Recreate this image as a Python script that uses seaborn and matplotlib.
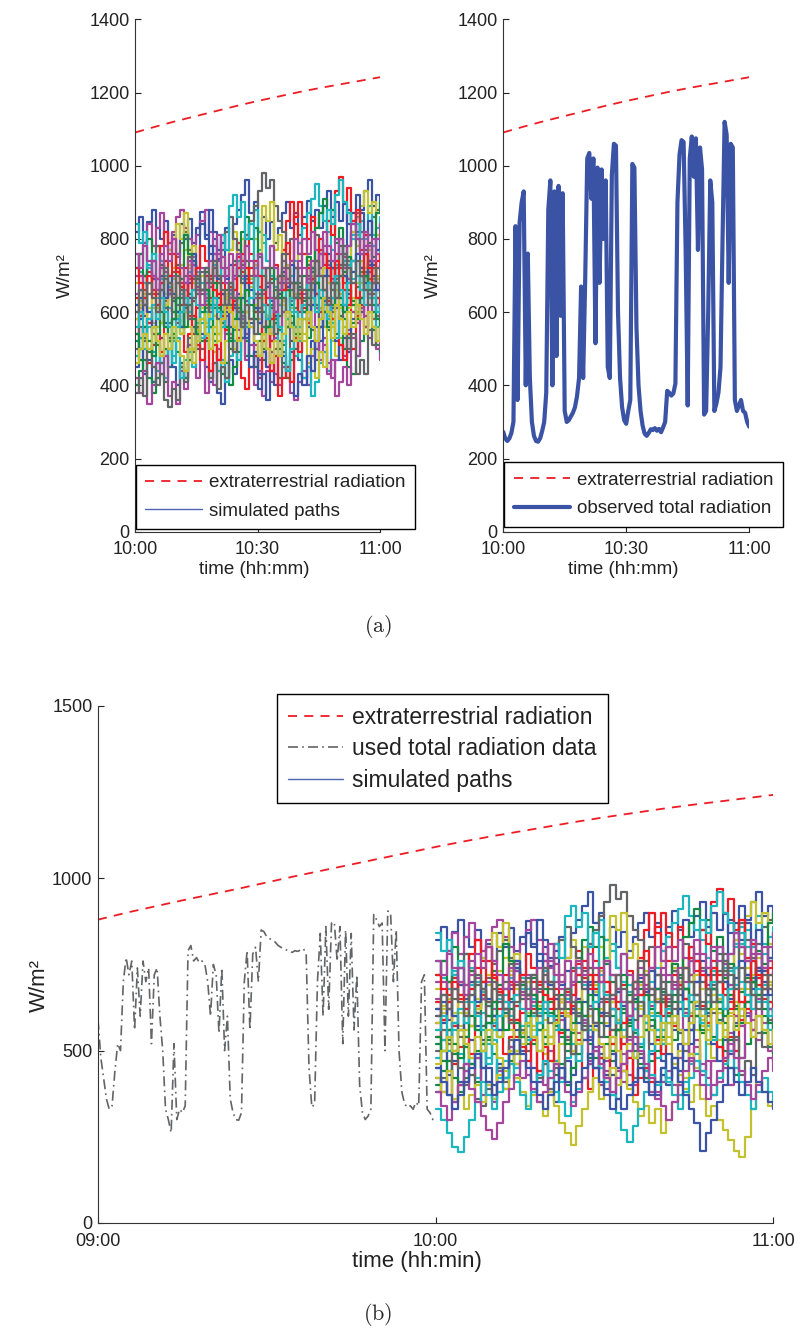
import numpy as np
import pandas as pd
import seaborn as sns
import matplotlib.pyplot as plt
from matplotlib.lines import Line2D

sns.set_style('white')
plt.rcParams['font.family'] = ['Liberation Sans', 'DejaVu Sans']
plt.rcParams['mathtext.fontset'] = 'cm'

# extraterrestrial radiation, every 5 min from 09:00 to 11:00
et_minutes = np.arange(0, 121, 5)
et_values = [880, 900, 918, 936, 953, 970, 988, 1006, 1023, 1040, 1057, 1074, 1091,
             1107, 1122, 1136, 1150, 1164, 1177, 1189, 1201, 1212, 1222, 1232, 1242]

# observed total radiation 10:00-11:00, every 30 s
obs_values = [273, 255, 248, 255, 270, 300, 835, 360, 845, 900,
              930, 400, 760, 420, 300, 262, 248, 246, 255, 275,
              300, 380, 880, 960, 400, 930, 480, 945, 590, 925,
              330, 300, 305, 315, 325, 340, 370, 420, 670, 420,
              690, 1020, 1035, 910, 1020, 515, 995, 680, 990, 800,
              960, 450, 420, 975, 1060, 1055, 600, 420, 340, 305,
              295, 330, 360, 1005, 995, 560, 400, 330, 290, 268,
              262, 270, 280, 278, 283, 276, 281, 272, 285, 300,
              385, 380, 372, 378, 405, 900, 1030, 1070, 1065, 770,
              345, 1020, 1080, 970, 1075, 770, 1050, 990, 320, 330,
              600, 960, 900, 330, 350, 380, 450, 800, 1120, 1085,
              680, 1060, 1050, 360, 330, 345, 360, 330, 325, 300,
              287]

# used total radiation data 09:00-10:00, every 30 s
used_values = [590, 480, 420, 360, 330, 340, 440, 520, 500, 700,
               770, 720, 760, 560, 740, 600, 760, 700, 740, 520,
               720, 740, 600, 500, 330, 300, 262, 520, 300, 330,
               320, 340, 790, 805, 760, 770, 755, 760, 750, 700,
               600, 750, 720, 550, 740, 500, 600, 360, 320, 300,
               298, 320, 700, 790, 560, 780, 800, 700, 850, 845,
               830, 825, 820, 815, 805, 800, 795, 792, 790, 785,
               790, 788, 792, 796, 780, 450, 336, 345, 700, 840,
               600, 860, 620, 870, 873, 760, 860, 520, 850, 600,
               840, 560, 720, 400, 320, 300, 310, 330, 895, 880,
               860, 870, 500, 905, 900, 700, 850, 500, 380, 345,
               335, 340, 330, 350, 340, 700, 720, 330, 320, 300,
               310]

# simulated paths 10:00-11:00, one value per minute
paths = [
    [820, 860, 790, 845, 880, 830, 800, 850, 770, 810, 760, 840, 800, 855, 790, 830, 875, 810, 760, 800,
     745, 790, 830, 770, 840, 880, 920, 960, 870, 900, 820, 860, 800, 845, 790, 830, 870, 900, 830, 870,
     810, 860, 905, 850, 880, 830, 890, 930, 860, 900, 850, 895, 840, 870, 820, 880, 930, 960, 890, 920, 900],
    [520, 470, 530, 490, 560, 510, 460, 500, 450, 530, 580, 540, 610, 650, 590, 540, 580, 520, 560, 610,
     650, 590, 540, 500, 550, 600, 560, 520, 480, 450, 520, 470, 560, 610, 660, 620, 680, 600, 560, 610,
     650, 700, 640, 690, 610, 560, 600, 550, 640, 680, 620, 580, 530, 570, 620, 660, 710, 650, 600, 640, 590],
    [640, 590, 660, 710, 650, 610, 570, 630, 680, 640, 710, 670, 620, 580, 540, 610, 660, 620, 690, 760,
     700, 650, 610, 680, 730, 790, 740, 810, 760, 700, 670, 720, 640, 690, 730, 680, 770, 850, 900, 840,
     790, 760, 730, 690, 650, 600, 660, 720, 680, 760, 720, 680, 640, 600, 580, 640, 700, 740, 680, 640, 610],
    [760, 710, 680, 730, 690, 780, 740, 700, 670, 630, 600, 650, 620, 710, 760, 710, 680, 630, 580, 620,
     540, 580, 620, 650, 700, 740, 690, 800, 840, 880, 820, 790, 740, 700, 670, 620, 600, 660, 700, 740,
     790, 830, 870, 910, 950, 890, 850, 820, 770, 730, 700, 740, 780, 810, 860, 800, 760, 720, 780, 830, 860],
    [700, 760, 790, 840, 780, 830, 870, 820, 790, 820, 860, 880, 830, 800, 750, 810, 850, 880, 820, 780,
     740, 700, 720, 660, 620, 650, 580, 540, 580, 510, 470, 520, 450, 490, 430, 400, 450, 420, 380, 360,
     410, 440, 400, 480, 520, 470, 510, 460, 420, 470, 510, 480, 550, 600, 570, 640, 590, 530, 560, 500, 470],
    [560, 610, 650, 600, 570, 520, 570, 610, 650, 690, 640, 730, 770, 720, 680, 650, 600, 560, 620, 660,
     700, 750, 700, 770, 820, 760, 800, 740, 690, 730, 660, 620, 580, 540, 590, 560, 630, 680, 640, 720,
     760, 800, 740, 700, 650, 610, 560, 590, 520, 480, 530, 560, 610, 640, 600, 680, 720, 770, 730, 700, 660],
    [620, 660, 700, 650, 740, 780, 730, 690, 650, 710, 750, 790, 820, 770, 730, 690, 650, 610, 670, 720,
     680, 770, 820, 860, 800, 770, 730, 810, 850, 890, 930, 980, 940, 960, 890, 850, 820, 760, 800, 720,
     660, 620, 580, 550, 500, 560, 600, 640, 600, 690, 730, 780, 740, 820, 870, 820, 770, 810, 860, 880, 900],
    [450, 500, 430, 470, 410, 460, 530, 480, 520, 450, 400, 460, 420, 510, 560, 500, 540, 450, 410, 460,
     380, 350, 420, 470, 430, 520, 590, 530, 570, 480, 430, 490, 450, 540, 600, 560, 640, 580, 520, 560,
     470, 420, 480, 520, 470, 560, 630, 570, 610, 520, 470, 530, 490, 580, 640, 600, 700, 730, 660, 620, 580],
    [400, 440, 470, 420, 380, 420, 460, 410, 500, 540, 490, 450, 420, 470, 500, 550, 520, 600, 560, 520,
     470, 430, 460, 400, 450, 490, 530, 480, 560, 610, 650, 600, 560, 520, 570, 500, 460, 420, 470, 500,
     540, 580, 530, 620, 680, 720, 660, 620, 580, 540, 590, 500, 450, 430, 480, 520, 560, 600, 550, 510, 490],
    [580, 530, 560, 460, 510, 540, 490, 620, 660, 600, 570, 620, 490, 540, 590, 550, 660, 700, 640, 730,
     650, 600, 640, 540, 490, 530, 420, 390, 450, 480, 420, 560, 590, 520, 640, 700, 660, 790, 740, 860,
     900, 840, 800, 860, 740, 700, 760, 630, 580, 640, 510, 470, 540, 500, 590, 620, 560, 710, 740, 680, 650],
    [480, 530, 500, 560, 490, 440, 480, 420, 500, 460, 580, 540, 660, 700, 630, 680, 570, 600, 500, 540,
     440, 470, 410, 480, 520, 470, 600, 560, 680, 650, 770, 810, 740, 780, 690, 640, 690, 560, 600, 480,
     520, 420, 450, 370, 410, 460, 490, 440, 570, 530, 650, 600, 730, 690, 810, 850, 800, 890, 810, 770, 740],
    [420, 380, 440, 350, 400, 460, 430, 480, 370, 410, 350, 440, 390, 510, 460, 420, 470, 380, 440, 400,
     500, 460, 590, 540, 620, 550, 590, 470, 510, 400, 440, 370, 440, 410, 530, 480, 600, 560, 680, 640,
     720, 650, 690, 560, 610, 490, 530, 430, 470, 370, 410, 450, 400, 530, 480, 610, 560, 650, 580, 620, 500],
    [680, 630, 700, 570, 610, 560, 690, 650, 770, 720, 840, 800, 870, 730, 780, 660, 700, 570, 610, 490,
     540, 460, 520, 560, 500, 640, 600, 720, 680, 800, 760, 890, 850, 900, 770, 810, 690, 730, 610, 650,
     530, 580, 460, 500, 420, 490, 450, 570, 530, 660, 610, 730, 690, 820, 780, 890, 930, 870, 900, 810, 780],
    [380, 420, 370, 500, 450, 400, 430, 360, 340, 390, 360, 450, 410, 530, 490, 560, 500, 540, 420, 460,
     390, 450, 420, 530, 490, 610, 570, 690, 640, 600, 650, 540, 580, 460, 500, 420, 490, 450, 570, 530,
     650, 600, 730, 690, 810, 760, 700, 740, 660, 610, 580, 620, 500, 540, 430, 470, 430, 550, 510, 590, 520],
    [600, 640, 590, 720, 690, 650, 700, 570, 530, 580, 600, 560, 680, 640, 760, 720, 840, 800, 880, 820,
     770, 810, 690, 730, 610, 650, 530, 570, 450, 490, 390, 430, 360, 440, 400, 520, 480, 440, 490, 370,
     430, 400, 480, 440, 560, 520, 640, 600, 720, 680, 800, 760, 880, 840, 920, 870, 810, 850, 730, 770, 800],
    [720, 760, 700, 800, 740, 690, 730, 610, 650, 600, 730, 690, 810, 760, 740, 690, 660, 710, 580, 540,
     610, 570, 660, 620, 740, 700, 820, 860, 800, 830, 750, 700, 670, 720, 590, 550, 510, 560, 590, 540,
     670, 630, 750, 710, 830, 870, 910, 850, 880, 790, 830, 710, 750, 630, 670, 710, 660, 790, 750, 870, 900],
    [540, 590, 620, 570, 700, 660, 780, 820, 760, 800, 710, 670, 720, 590, 630, 510, 470, 530, 440, 510,
     470, 590, 550, 670, 630, 750, 710, 680, 720, 600, 640, 520, 560, 440, 480, 370, 420, 450, 410, 530,
     490, 610, 570, 690, 650, 770, 730, 850, 810, 930, 970, 900, 940, 850, 880, 770, 810, 690, 650, 720, 730],
    [840, 790, 820, 720, 760, 640, 690, 560, 610, 480, 530, 420, 470, 490, 450, 570, 530, 650, 610, 730,
     690, 810, 770, 890, 920, 860, 900, 800, 840, 720, 760, 640, 680, 560, 600, 480, 520, 440, 500, 560,
     520, 640, 600, 720, 680, 800, 760, 880, 840, 920, 960, 900, 870, 800, 840, 720, 760, 640, 690, 560, 520],
    [650, 700, 620, 680, 740, 690, 760, 710, 650, 700, 620, 660, 600, 690, 730, 670, 720, 640, 700, 760,
     810, 750, 700, 760, 690, 640, 700, 630, 580, 640, 700, 650, 720, 780, 720, 680, 740, 690, 630, 680,
     740, 800, 760, 820, 770, 720, 780, 730, 690, 740, 800, 750, 690, 740, 680, 720, 780, 740, 800, 760, 720],
    [580, 620, 560, 610, 660, 610, 570, 620, 680, 640, 590, 540, 600, 560, 500, 550, 610, 570, 630, 590,
     540, 600, 650, 610, 560, 620, 680, 720, 670, 620, 580, 640, 590, 540, 600, 660, 620, 580, 640, 600,
     560, 520, 580, 640, 600, 660, 720, 680, 740, 700, 650, 700, 660, 620, 680, 740, 700, 660, 720, 690, 650],
    [500, 560, 520, 580, 540, 600, 660, 610, 570, 630, 680, 640, 700, 750, 690, 650, 710, 660, 600, 640,
     580, 620, 560, 600, 660, 720, 680, 740, 700, 650, 610, 560, 620, 580, 540, 590, 640, 600, 660, 720,
     680, 640, 700, 660, 620, 580, 640, 700, 660, 720, 780, 730, 680, 740, 800, 760, 700, 660, 720, 680, 640],
    [620, 580, 640, 600, 560, 620, 680, 640, 700, 650, 600, 560, 620, 680, 740, 700, 660, 720, 780, 740,
     690, 650, 600, 560, 620, 580, 640, 700, 660, 610, 570, 620, 670, 630, 590, 650, 710, 670, 730, 680,
     640, 600, 560, 620, 680, 640, 700, 760, 720, 680, 640, 700, 650, 710, 760, 720, 680, 740, 700, 660, 700],
    [540, 500, 560, 520, 480, 540, 600, 560, 520, 580, 640, 600, 560, 620, 580, 540, 600, 660, 620, 680,
     640, 600, 560, 520, 580, 640, 600, 660, 620, 580, 540, 500, 560, 620, 580, 640, 700, 660, 620, 680,
     640, 600, 660, 720, 680, 640, 600, 560, 620, 680, 640, 600, 660, 620, 580, 640, 700, 660, 620, 580, 560],
    [720, 680, 640, 700, 660, 620, 680, 740, 700, 760, 720, 680, 640, 700, 660, 720, 780, 740, 700, 660,
     620, 680, 640, 600, 660, 720, 760, 720, 680, 740, 700, 660, 620, 580, 640, 700, 660, 720, 680, 640,
     600, 660, 720, 680, 740, 800, 760, 720, 680, 740, 700, 660, 620, 680, 640, 700, 760, 720, 680, 740, 760],
    [560, 600, 540, 580, 620, 580, 640, 600, 560, 520, 560, 600, 640, 600, 660, 620, 580, 540, 580, 640,
     600, 560, 620, 680, 640, 600, 560, 600, 640, 700, 660, 620, 580, 640, 600, 560, 520, 580, 640, 600,
     560, 620, 680, 640, 600, 660, 620, 580, 640, 700, 660, 620, 680, 740, 700, 660, 620, 680, 640, 600, 620],
    [760, 720, 780, 740, 700, 660, 720, 780, 740, 800, 760, 720, 680, 740, 700, 660, 620, 680, 740, 700,
     760, 720, 680, 640, 700, 760, 720, 780, 740, 700, 760, 720, 680, 640, 600, 660, 720, 680, 740, 800,
     760, 720, 680, 740, 700, 760, 820, 780, 740, 800, 760, 720, 780, 840, 800, 760, 820, 780, 740, 800, 840],
    [460, 500, 540, 500, 560, 520, 480, 540, 500, 560, 520, 480, 440, 500, 460, 520, 580, 540, 500, 560,
     520, 580, 640, 600, 560, 520, 560, 600, 560, 520, 480, 540, 500, 460, 520, 480, 540, 600, 560, 520,
     580, 540, 600, 560, 520, 580, 640, 600, 560, 620, 580, 540, 600, 560, 620, 580, 540, 600, 560, 520, 560],
    [600, 660, 620, 680, 640, 600, 660, 720, 680, 640, 700, 660, 620, 580, 640, 700, 660, 720, 680, 740,
     700, 660, 620, 680, 640, 600, 560, 620, 580, 540, 600, 660, 720, 680, 640, 700, 760, 720, 680, 640,
     700, 660, 620, 680, 740, 700, 660, 620, 680, 640, 700, 760, 720, 680, 740, 700, 660, 620, 680, 720, 680],
]

# extra low paths that only appear in panel (b)
extra_paths = [
    [420, 380, 440, 360, 400, 330, 370, 400, 350, 400, 360, 430, 390, 460, 420, 380, 340, 370, 350, 310,
     380, 340, 290, 260, 225, 280, 330, 380, 420, 360, 410, 450, 400, 440, 390, 350, 310, 340, 290, 330,
     260, 300, 350, 430, 390, 350, 400, 360, 310, 340, 300, 270, 240, 210, 190, 250, 330, 410, 380, 340, 360],
    [330, 300, 260, 220, 205, 250, 300, 350, 410, 370, 330, 380, 420, 460, 410, 370, 330, 380, 430, 470,
     420, 380, 350, 310, 350, 390, 420, 460, 500, 450, 410, 370, 320, 270, 235, 280, 330, 380, 430, 400,
     450, 410, 370, 330, 380, 420, 470, 440, 400, 370, 420, 460, 500, 450, 410, 370, 330, 380, 420, 380, 350],
    [380, 340, 300, 350, 400, 440, 390, 350, 310, 270, 245, 290, 350, 390, 430, 470, 430, 390, 350, 380,
     420, 460, 420, 380, 340, 380, 420, 460, 500, 460, 420, 380, 420, 460, 500, 540, 500, 460, 420, 380,
     340, 300, 350, 400, 440, 480, 440, 400, 360, 400, 440, 480, 520, 480, 440, 400, 360, 400, 440, 480, 440],
    [450, 410, 370, 330, 370, 410, 450, 490, 450, 410, 370, 410, 450, 490, 530, 490, 450, 410, 370, 330,
     370, 410, 450, 410, 370, 410, 450, 490, 450, 410, 370, 330, 360, 330, 370, 410, 450, 410, 370, 410,
     450, 490, 450, 410, 370, 330, 290, 210, 260, 300, 350, 400, 450, 410, 370, 410, 450, 410, 380, 350, 330],
]

BLUE, GREEN, RED, CYAN = '#3a53a4', '#138a43', '#ed1c24', '#1bb6be'
MAGENTA, YELLOW, GRAY = '#a4469b', '#c3c22e', '#636466'
cycle = [BLUE, GREEN, RED, CYAN, MAGENTA, YELLOW, GRAY]
extra_colors = [YELLOW, CYAN, MAGENTA, BLUE]
TXT = '#222222'


def paths_frame(series, offset):
    rows = []
    for i, vals in enumerate(series):
        for m, v in enumerate(vals):
            rows.append((f'p{i:02d}', m + offset, v))
    return pd.DataFrame(rows, columns=['path', 'minute', 'value'])


def draw_paths(ax, series, colors, offset=0):
    df = paths_frame(series, offset)
    pal = {f'p{i:02d}': colors[i] for i in range(len(series))}
    sns.lineplot(data=df, x='minute', y='value', hue='path', palette=pal,
                 estimator=None, sort=False, legend=False, lw=1.6,
                 drawstyle='steps-post', ax=ax)


def style_axis(ax, fs):
    sns.despine(ax=ax)
    for s in ['left', 'bottom']:
        ax.spines[s].set_color('#333333')
        ax.spines[s].set_linewidth(0.8)
    ax.tick_params(direction='in', length=4, width=0.8, labelsize=fs,
                   colors=TXT, pad=4, left=True, bottom=True)
    ax.tick_params(axis='x', pad=7)
    ax.set_xlabel('')
    ax.set_ylabel('')


def legend_box(ax, handles, labels, fs, anchor, loc, hl, sp):
    leg = ax.legend(handles, labels, loc=loc, bbox_to_anchor=anchor,
                    fontsize=fs, frameon=True, fancybox=False, framealpha=1,
                    edgecolor='black', borderaxespad=0, handlelength=hl,
                    handletextpad=0.4, labelspacing=sp, borderpad=0.5)
    leg.get_frame().set_linewidth(1.0)
    for t in leg.get_texts():
        t.set_color(TXT)
    return leg


fig = plt.figure(figsize=(8, 13.28), dpi=100)
ax_tl = fig.add_axes([0.169, 0.5996, 0.306, 0.3858])
ax_tr = fig.add_axes([0.629, 0.5996, 0.3075, 0.3858])
ax_b = fig.add_axes([0.1225, 0.0791, 0.844, 0.3893])

obs_minutes = np.arange(len(obs_values)) * 0.5
used_minutes = np.arange(len(used_values)) * 0.5
et_top = et_minutes >= 60

red_dash = (0, (5, 4))
path_colors = [cycle[i % 7] for i in range(len(paths))]


def et_handle():
    return Line2D([], [], color=RED, lw=1.3, linestyle=red_dash)


def sim_handle():
    return Line2D([], [], color='#4f63b0', lw=1.0)


# (a) left: simulated paths
draw_paths(ax_tl, paths, path_colors)
sns.lineplot(x=et_minutes[et_top] - 60, y=np.array(et_values)[et_top], color=RED,
             lw=1.3, linestyle=red_dash, ax=ax_tl)
style_axis(ax_tl, 13)
ax_tl.set_xlim(0, 60)
ax_tl.set_ylim(0, 1400)
ax_tl.set_yticks(range(0, 1401, 200))
ax_tl.set_xticks([0, 30, 60], ['10:00', '10:30', '11:00'])
ax_tl.set_xlabel('time (hh:mm)', fontsize=13.5, color=TXT)
ax_tl.set_ylabel('W/m²', fontsize=13.5, color=TXT)
ax_tl.xaxis.set_label_coords(0.485, -0.057)
ax_tl.yaxis.set_label_coords(-0.25, 0.5)
legend_box(ax_tl, [et_handle(), sim_handle()], ['extraterrestrial radiation', 'simulated paths'],
           13.5, (0.003, 0.005), 'lower left', 3.0, 0.6)

# (a) right: observed radiation
sns.lineplot(x=obs_minutes, y=obs_values, color=BLUE, lw=3.0, ax=ax_tr)
sns.lineplot(x=et_minutes[et_top] - 60, y=np.array(et_values)[et_top], color=RED,
             lw=1.3, linestyle=red_dash, ax=ax_tr)
style_axis(ax_tr, 13)
ax_tr.set_xlim(0, 60)
ax_tr.set_ylim(0, 1400)
ax_tr.set_yticks(range(0, 1401, 200))
ax_tr.set_xticks([0, 30, 60], ['10:00', '10:30', '11:00'])
ax_tr.set_xlabel('time (hh:mm)', fontsize=13.5, color=TXT)
ax_tr.set_ylabel('W/m²', fontsize=13.5, color=TXT)
ax_tr.xaxis.set_label_coords(0.487, -0.057)
ax_tr.yaxis.set_label_coords(-0.248, 0.5)
h_obs = Line2D([], [], color=BLUE, lw=3.0)
legend_box(ax_tr, [et_handle(), h_obs], ['extraterrestrial radiation', 'observed total radiation'],
           13.5, (0.004, 0.01), 'lower left', 3.0, 0.6)

# (b): used data and simulated continuation
draw_paths(ax_b, paths + extra_paths, path_colors + extra_colors, offset=60)
sns.lineplot(x=used_minutes, y=used_values, color=GRAY, lw=1.2,
             linestyle=(0, (6, 2.5, 1, 2.5)), ax=ax_b)
sns.lineplot(x=et_minutes, y=et_values, color=RED, lw=1.3, linestyle=red_dash, ax=ax_b)
style_axis(ax_b, 13)
ax_b.set_xlim(0, 120)
ax_b.set_ylim(0, 1500)
ax_b.set_yticks([0, 500, 1000, 1500])
ax_b.set_xticks([0, 60, 120], ['09:00', '10:00', '11:00'])
ax_b.set_xlabel('time (hh:min)', fontsize=16, color=TXT)
ax_b.set_ylabel('W/m²', fontsize=16, color=TXT)
ax_b.xaxis.set_label_coords(0.473, -0.055)
ax_b.yaxis.set_label_coords(-0.071, 0.46)
h_used = Line2D([], [], color=GRAY, lw=1.2, linestyle=(0, (6, 2.5, 1, 2.5)))
legend_box(ax_b, [et_handle(), h_used, sim_handle()],
           ['extraterrestrial radiation', 'used total radiation data', 'simulated paths'],
           16.5, (0.2647, 1.023), 'upper left', 2.4, 0.38)

fig.text(378 / 800, 1 - 627 / 1328, r'$\mathrm{(a)}$', fontsize=16, ha='center', va='center')
fig.text(378 / 800, 1 - 1314 / 1328, r'$\mathrm{(b)}$', fontsize=16, ha='center', va='center')

fig.savefig('out.png', dpi=100)
